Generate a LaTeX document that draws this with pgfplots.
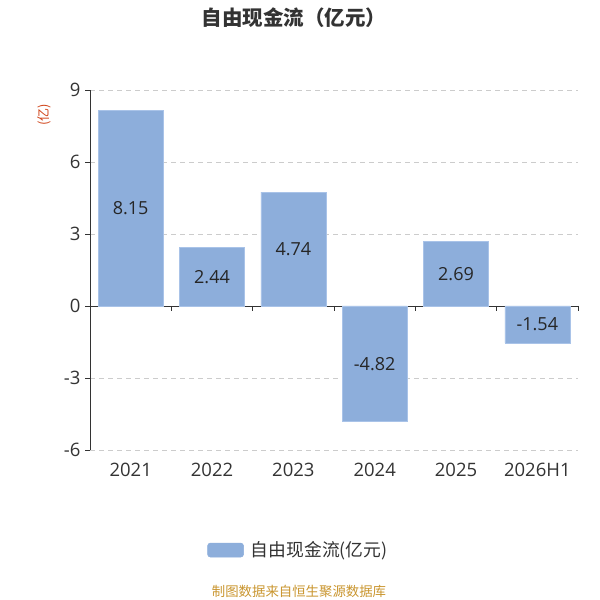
\documentclass[border=0pt]{standalone}
\usepackage{fontspec}
\setmainfont{Noto Sans CJK SC}
\newfontfamily\numfont{Open Sans}
\usepackage{pgfplots}
\pgfplotsset{compat=1.18}
\definecolor{barc}{HTML}{8DAEDB}
\definecolor{baredge}{HTML}{A9C3E8}
\definecolor{txt}{HTML}{333333}
\definecolor{gridc}{HTML}{CCCCCC}
\definecolor{foot}{HTML}{C9952E}
\definecolor{ylab}{HTML}{D0451B}
\begin{document}
\begin{tikzpicture}[x=1bp,y=1bp]
\path[use as bounding box] (0,0) rectangle (600,600);
\begin{axis}[
  at={(90bp,150bp)}, anchor=south west,
  width=488bp, height=360bp, scale only axis,
  xmin=-0.5, xmax=5.5, ymin=-6, ymax=9,
  axis x line*=bottom, axis y line*=left,
  x axis line style={draw=none},
  y axis line style={draw=txt, line width=0.8pt},
  xtick={0,1,2,3,4,5},
  xticklabels={2021,2022,2023,2024,2025,2026H1},
  major x tick style={draw=none},
  ytick={-6,-3,3,6,9},
  extra y ticks={0},
  extra y tick style={grid style={solid, draw=txt, line width=0.8pt}},
  ymajorgrids,
  grid style={dashed, draw=gridc, line width=0.8pt, dash pattern=on 5bp off 4bp},
  major y tick style={draw=txt, line width=0.8pt},
  tick align=outside, major tick length=5bp,
  /pgf/number format/assume math mode=true,
  ticklabel style={font=\numfont\fontsize{18.5bp}{20bp}\selectfont, text=txt},
  xticklabel style={yshift=-5bp},
  yticklabel style={xshift=-1bp},
  legend style={at={(0.427,-0.278)}, anchor=center, draw=none,
    font=\fontsize{17.8bp}{20bp}\selectfont, text=txt,
    legend cell align=left,
    /tikz/every odd column/.append style={column sep=5bp}},
  legend image code/.code={\fill[barc, rounded corners=3bp] (0bp,-7bp) rectangle (36bp,7bp);},
  clip=false,
]
\addplot[ybar, bar width=0.8, fill=barc, draw=baredge, line width=0.6pt, bar shift=0pt]
  coordinates {(0,8.15) (1,2.44) (2,4.74) (3,-4.82) (4,2.69) (5,-1.54)};
\addlegendentry{自由现金流(亿元)}
\addplot[ycomb, draw=txt, line width=0.8pt, no marks, forget plot]
  coordinates {(-0.5,-0.21) (0.5,-0.21) (1.5,-0.21) (2.5,-0.21) (3.5,-0.21) (4.5,-0.21) (5.5,-0.21)};
\addplot[draw=none, no marks, forget plot,
  nodes near coords, point meta=explicit symbolic,
  every node near coord/.append style={anchor=center, font=\numfont\fontsize{18bp}{20bp}\selectfont, text=black!85}]
  coordinates {(0,4.075)[8.15] (1,1.22)[2.44] (2,2.37)[4.74] (3,-2.41)[-4.82] (4,1.345)[2.69] (5,-0.77)[-1.54]};
\end{axis}
\node[font=\bfseries\fontsize{20.5bp}{23bp}\selectfont, text=txt] at (294,582) {自由现金流（亿元）};
\node[font=\fontsize{13bp}{15bp}\selectfont, text=ylab, rotate=90] at (44,485) {(亿)};
\node[font=\fontsize{13.4bp}{15bp}\selectfont, text=foot] at (299,9) {制图数据来自恒生聚源数据库};
\end{tikzpicture}
\end{document}
